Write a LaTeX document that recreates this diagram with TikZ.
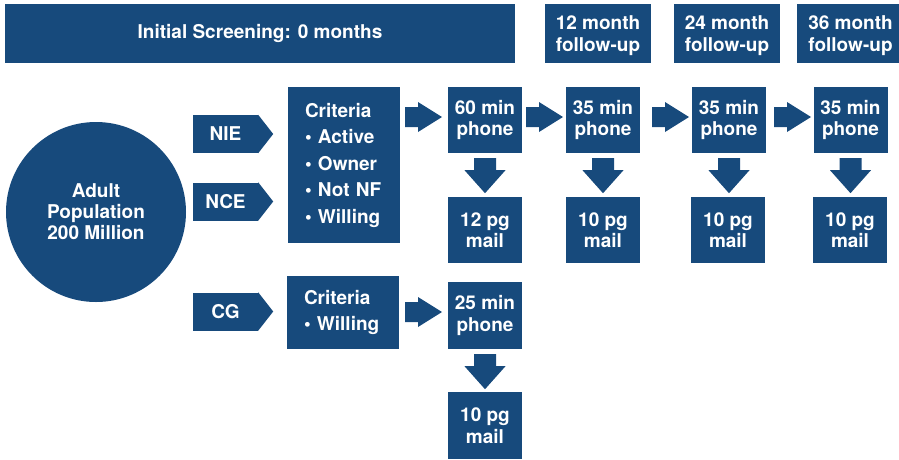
\documentclass[tikz,border=0pt]{standalone}
\usepackage{fontspec}
\setmainfont{TeX Gyre Heros}
\usetikzlibrary{calc}
\definecolor{boxc}{HTML}{174A7C}
\tikzset{
  box/.style={fill=boxc, text=white, font=\bfseries\fontsize{19}{21.5}\selectfont,
    align=center, inner sep=0pt, draw=none},
  headtext/.style={text=white, font=\bfseries\fontsize{19}{22}\selectfont,
    align=center, inner sep=0pt, yshift=-2pt},
  listbox/.style={box, align=left, text width=78pt,
    font=\bfseries\fontsize{19}{26.5}\selectfont},
  blockarrow/.style={fill=boxc, draw=none}
}
% right block arrow: start x, centre y (pixels)
\newcommand\rarr[2]{\fill[blockarrow] (#1,#2-10) -- (#1+13,#2-10) -- (#1+13,#2-15) -- (#1+37,#2) -- (#1+13,#2+15) -- (#1+13,#2+10) -- (#1,#2+10) -- cycle;}
% down block arrow below a named node
\newcommand\darr[1]{\fill[blockarrow] let \p1=(#1.south) in
  (\x1-11pt,\y1-5pt) -- (\x1+11pt,\y1-5pt) -- (\x1+11pt,\y1-17pt) -- (\x1+20.5pt,\y1-17pt)
  -- (\x1,\y1-40pt) -- (\x1-20.5pt,\y1-17pt) -- (\x1-11pt,\y1-17pt) -- cycle;}
% pentagon tip to the right of a named node
\newcommand\tip[1]{\fill[blockarrow] (#1.north east) -- ($(#1.east)+(15,0)$) -- (#1.south east) -- cycle;}
\begin{document}
\begin{tikzpicture}[x=1pt,y=-1pt]
\useasboundingbox (0,0) rectangle (899,459);
\clip (0,0) rectangle (899,459);

% header row
\node[box, minimum width=510pt, minimum height=59pt] (init) at (260,33.5) {Initial Screening: 0 months};
\node[box, minimum width=106pt, minimum height=59pt,
  label={[headtext]center:{12 month\\follow-up}}] (f12) at (598,33.5) {};
\node[box, minimum width=106pt, minimum height=59pt,
  label={[headtext]center:{24 month\\follow-up}}] (f24) at (727,33.5) {};
\node[box, minimum width=107pt, minimum height=59pt,
  label={[headtext]center:{36 month\\follow-up}}] (f36) at (850.5,33.5) {};

% population
\node[box, circle, minimum size=180pt, font=\bfseries\fontsize{19}{21}\selectfont] (pop) at (96,212) {Adult\\Population\\200 Million};

% groups
\node[box, minimum width=65pt, minimum height=38pt] (nie) at (225.5,134) {NIE};
\tip{nie}
\node[box, minimum width=65pt, minimum height=38pt] (nce) at (225.5,201.5) {NCE};
\tip{nce}
\node[box, minimum width=65pt, minimum height=38pt] (cg) at (225.5,311.5) {CG};
\tip{cg}

% criteria
\node[listbox, minimum width=112pt, minimum height=156pt] (crit1) at (344,165)
  {Criteria\\\textbullet\ Active\\\textbullet\ Owner\\\textbullet\ Not NF\\\textbullet\ Willing};
\node[listbox, minimum width=112pt, minimum height=73pt] (crit2) at (343,312.5)
  {Criteria\\\textbullet\ Willing};

% phone boxes
\node[box, minimum width=74pt, minimum height=66pt] (p1) at (485,120) {60 min\\phone};
\node[box, minimum width=74pt, minimum height=66pt] (p2) at (603,120) {35 min\\phone};
\node[box, minimum width=74pt, minimum height=66pt] (p3) at (729,120) {35 min\\phone};
\node[box, minimum width=74pt, minimum height=66pt] (p4) at (850.5,120) {35 min\\phone};
\node[box, minimum width=74pt, minimum height=67pt] (p5) at (485,315.5) {25 min\\phone};

% mail boxes
\node[box, minimum width=74pt, minimum height=66pt] (m1) at (485,230) {12 pg\\mail};
\node[box, minimum width=74pt, minimum height=66pt] (m2) at (603,230) {10 pg\\mail};
\node[box, minimum width=74pt, minimum height=66pt] (m3) at (728,230) {10 pg\\mail};
\node[box, minimum width=74pt, minimum height=66pt] (m4) at (850,230) {10 pg\\mail};
\node[box, minimum width=74pt, minimum height=67pt] (m5) at (485,425.5) {10 pg\\mail};

% right arrows
\rarr{405}{117}
\rarr{526}{117}
\rarr{652}{117}
\rarr{774}{117}
\rarr{405}{312}

% down arrows
\darr{p1}
\darr{p2}
\darr{p3}
\darr{p4}
\darr{p5}
\end{tikzpicture}
\end{document}
